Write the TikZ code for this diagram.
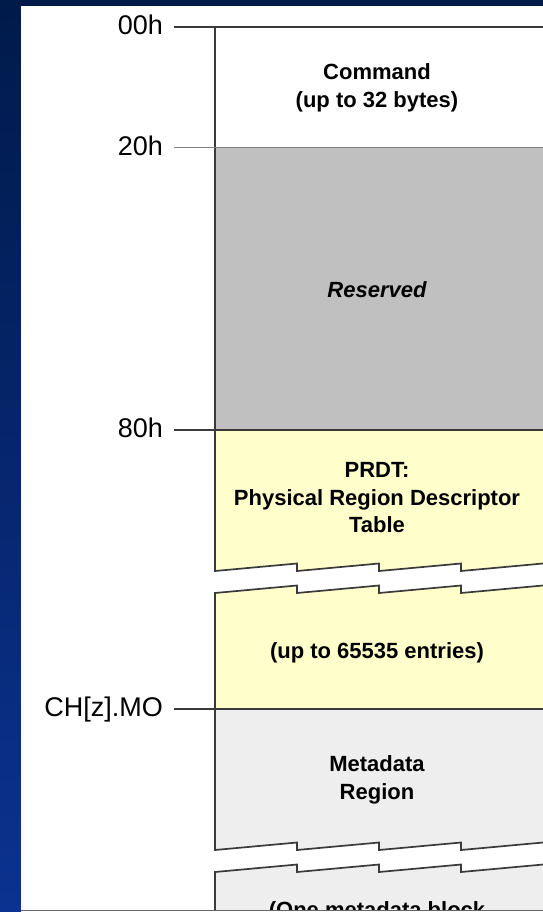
\documentclass[tikz,border=0pt]{standalone}
\usepackage{fontspec}
\setmainfont{Liberation Sans}
\definecolor{navtop}{HTML}{001A4A}
\definecolor{navbot}{HTML}{0B3290}
\definecolor{linec}{HTML}{3A3A3A}
\definecolor{resgray}{HTML}{C0C0C0}
\definecolor{prdtyel}{HTML}{FFFFCC}
\definecolor{metagray}{HTML}{EEEEEE}
\tikzset{
  lab/.style={font=\fontsize{27}{30}\selectfont, anchor=base east, inner sep=0pt, text=black},
  txt/.style={font=\fontsize{22}{27.3}\selectfont\bfseries, align=center, inner sep=0pt, text=black},
  border/.style={draw=linec, line width=1.7pt, line join=miter},
  tick/.style={draw=linec, line width=1.3pt},
  thintick/.style={draw=gray, line width=1pt},
}
\begin{document}
\begin{tikzpicture}[x=1pt,y=-1pt]
\useasboundingbox (0,0) rectangle (542,912);
% background
\shade[top color=navtop, bottom color=navbot] (0,0) rectangle (550,912);
\fill[white] (21,6) rectangle (550,912);

\begin{scope}
\clip (21,6) rectangle (550,910);
% Command
\fill[white] (215,27) rectangle (550,148);
% Reserved
\fill[resgray] (215,148) rectangle (550,430);
% PRDT upper
\fill[prdtyel] (215,430) -- (550,430) -- (550,563) -- (543,563.5) -- (461,571) -- (461,563.5) -- (379,571) -- (379,563.5) -- (297,571) -- (297,563.5) -- (215,571) -- cycle;
% PRDT lower
\fill[prdtyel] (215,593) -- (297,585.5) -- (297,593) -- (379,585.5) -- (379,593) -- (461,585.5) -- (461,593) -- (543,585.5) -- (550,585) -- (550,709) -- (215,709) -- cycle;
% Metadata upper
\fill[metagray] (215,709) -- (550,709) -- (550,842) -- (543,842.5) -- (461,850) -- (461,842.5) -- (379,850) -- (379,842.5) -- (297,850) -- (297,842.5) -- (215,850) -- cycle;
% Metadata lower
\fill[metagray] (215,872) -- (297,864.5) -- (297,872) -- (379,864.5) -- (379,872) -- (461,864.5) -- (461,872) -- (543,864.5) -- (550,864) -- (550,920) -- (215,920) -- cycle;

% corner coordinates
\coordinate (c00) at (215,27);
\coordinate (c20) at (215,148);
\coordinate (c80) at (215,430);
\coordinate (cmo) at (215,709);
\coordinate (r00) at (550,27);
\coordinate (r20) at (550,148);
\coordinate (r80) at (550,430);
\coordinate (rmo) at (550,709);

% borders
\draw[border] (r00) -- (c00) -- (215,571) -- (297,563.5) -- (297,571) -- (379,563.5) -- (379,571) -- (461,563.5) -- (461,571) -- (543,563.5) -- (550,563);
\draw[border] (550,585) -- (543,585.5) -- (461,593) -- (461,585.5) -- (379,593) -- (379,585.5) -- (297,593) -- (297,585.5) -- (215,593) -- (215,850) -- (297,842.5) -- (297,850) -- (379,842.5) -- (379,850) -- (461,842.5) -- (461,850) -- (543,842.5) -- (550,842);
\draw[border] (550,864) -- (543,864.5) -- (461,872) -- (461,864.5) -- (379,872) -- (379,864.5) -- (297,872) -- (297,864.5) -- (215,872) -- (215,920);
\draw[thintick] (c20) -- (r20);
\draw[tick] (c80) -- (r80);
\draw[tick] (cmo) -- (rmo);

% texts
\node[txt] (cmd) at (377,87.8) {Command\\(up to 32 bytes)};
\node[txt, font=\fontsize{22}{27.3}\selectfont\bfseries\itshape, anchor=base] (res) at (377,297) {Reserved};
\node[txt] (prdt) at (377,497.6) {PRDT:\\Physical Region Descriptor\\Table};
\node[txt, anchor=base] (ent) at (377,658) {(up to 65535 entries)};
\node[txt] (meta) at (377,779.8) {Metadata\\Region};
\node[txt, anchor=base] (blk) at (377,917) {(One metadata block};
\end{scope}

% offset labels
\node[lab] (l00) at (163,34.5) {00h};
\node[lab] (l20) at (163,155.5) {20h};
\node[lab] (l80) at (163,437.5) {80h};
\node[lab] (lmo) at (163,716.5) {CH[z].MO};
\coordinate (t00) at (174,27);
\coordinate (t20) at (174,148);
\coordinate (t80) at (174,430);
\coordinate (tmo) at (174,709);
\draw[tick] (t00) -- (c00);
\draw[thintick] (t20) -- (c20);
\draw[tick] (t80) -- (c80);
\draw[tick] (tmo) -- (cmo);

% bottom edge
\draw[draw=gray!80!black, line width=1.5pt] (21,910.5) -- (550,910.5);
\end{tikzpicture}
\end{document}
